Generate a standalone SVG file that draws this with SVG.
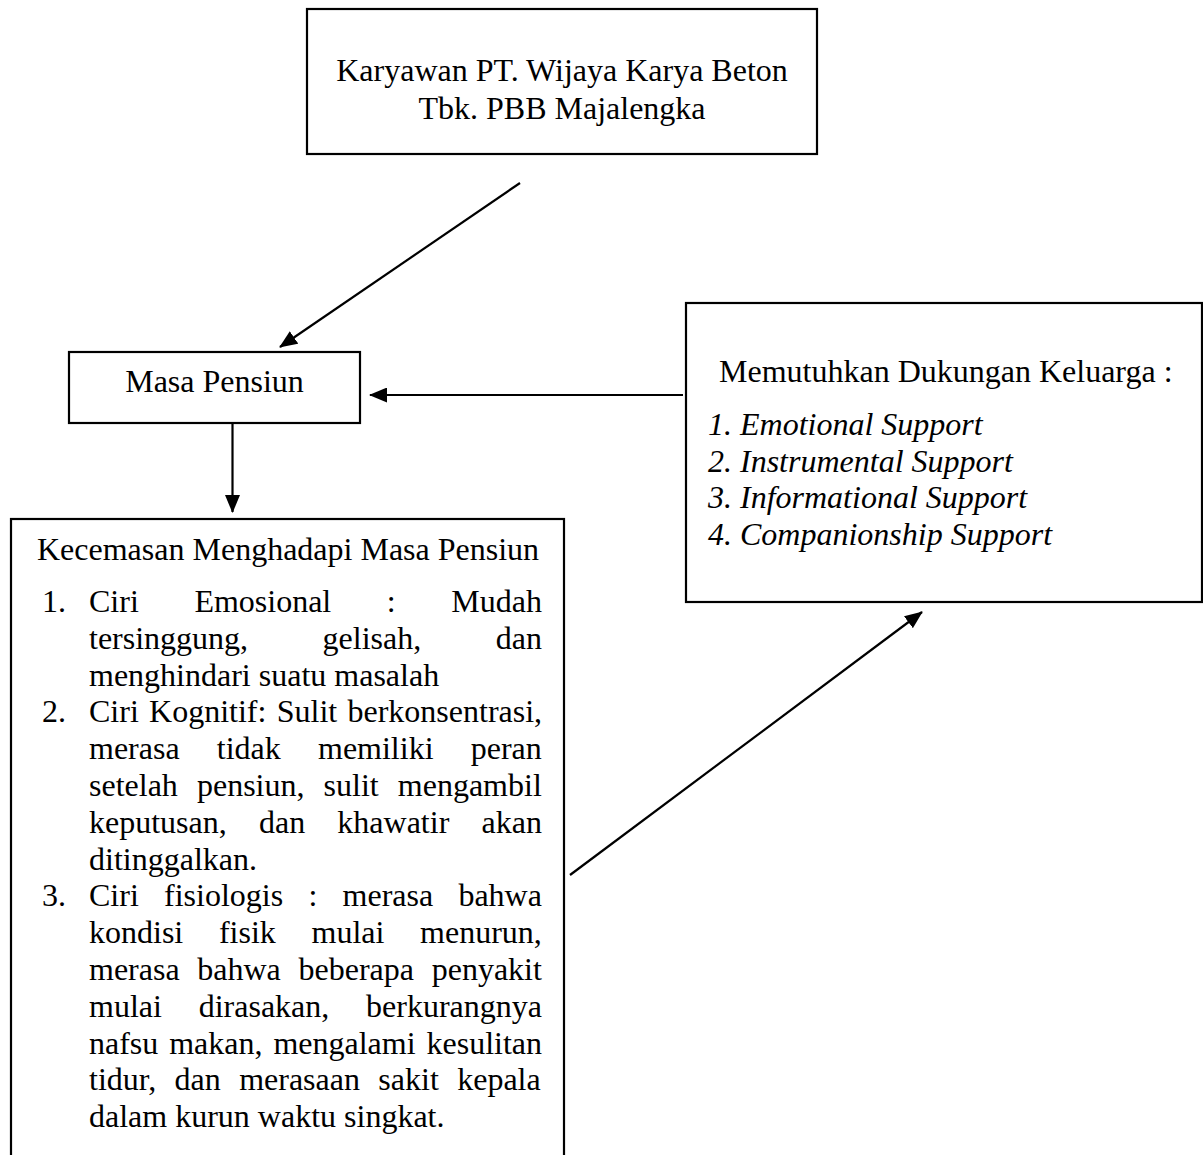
<svg xmlns="http://www.w3.org/2000/svg" width="1203" height="1155" viewBox="0 0 1203 1155">
<defs>
<style>
.box{fill:#fff;stroke:#000;stroke-width:2.2}
.t{font-family:"Liberation Serif","Times New Roman",serif;font-size:32px;fill:#000}
.c{text-anchor:middle}
.i{font-style:italic}
.conn line{stroke:#000;stroke-width:2.2}
</style>
<marker id="ah" viewBox="0 0 18 15" refX="17" refY="7.5" markerWidth="18" markerHeight="15" markerUnits="userSpaceOnUse" orient="auto">
<path d="M0,0 L18,7.5 L0,15 Z" fill="#000"/>
</marker>
</defs>
<rect width="1203" height="1155" fill="#fff"/>
<g id="node-karyawan">
<rect class="box" x="307" y="9" width="510" height="145"/>
<text class="t c" x="562" y="81">Karyawan PT. Wijaya Karya Beton</text>
<text class="t c" x="562" y="119">Tbk. PBB Majalengka</text>
</g>
<g id="node-masa-pensiun">
<rect class="box" x="69" y="352" width="291" height="71"/>
<text class="t c" x="214.5" y="392">Masa Pensiun</text>
</g>
<g id="node-dukungan">
<rect class="box" x="686" y="303" width="516" height="299"/>
<text class="t" x="719" y="382">Memutuhkan Dukungan Keluarga :</text>
<text class="t i" x="708" y="435">1. Emotional Support</text>
<text class="t i" x="708" y="472">2. Instrumental Support</text>
<text class="t i" x="708" y="508">3. Informational Support</text>
<text class="t i" x="708" y="545">4. Companionship Support</text>
</g>
<g id="node-kecemasan">
<rect class="box" x="11" y="519" width="553" height="660"/>
<text class="t" x="37" y="560">Kecemasan Menghadapi Masa Pensiun</text>
<text class="t" x="42" y="612">1.</text>
<text class="t" x="89" y="612" word-spacing="47.6">Ciri Emosional : Mudah</text>
<text class="t" x="89" y="648.8" word-spacing="66.5">tersinggung, gelisah, dan</text>
<text class="t" x="89" y="685.6">menghindari suatu masalah</text>
<text class="t" x="42" y="722.4">2.</text>
<text class="t" x="89" y="722.4" word-spacing="2.3">Ciri Kognitif: Sulit berkonsentrasi,</text>
<text class="t" x="89" y="759.2" word-spacing="29.2">merasa tidak memiliki peran</text>
<text class="t" x="89" y="796" word-spacing="11.1">setelah pensiun, sulit mengambil</text>
<text class="t" x="89" y="832.8" word-spacing="24.2">keputusan, dan khawatir akan</text>
<text class="t" x="89" y="869.6">ditinggalkan.</text>
<text class="t" x="42" y="906.4">3.</text>
<text class="t" x="89" y="906.4" word-spacing="17.25">Ciri fisiologis : merasa bahwa</text>
<text class="t" x="89" y="943.2" word-spacing="27.7">kondisi fisik mulai menurun,</text>
<text class="t" x="89" y="980" word-spacing="9.7">merasa bahwa beberapa penyakit</text>
<text class="t" x="89" y="1016.8" word-spacing="28.8">mulai dirasakan, berkurangnya</text>
<text class="t" x="89" y="1053.6" word-spacing="2.9">nafsu makan, mengalami kesulitan</text>
<text class="t" x="89" y="1090.4" word-spacing="10.4">tidur, dan merasaan sakit kepala</text>
<text class="t" x="89" y="1127.2">dalam kurun waktu singkat.</text>
</g>
<g id="connectors" class="conn">
<line x1="520" y1="183" x2="280" y2="347" marker-end="url(#ah)"/>
<line x1="683" y1="395" x2="370" y2="395" marker-end="url(#ah)"/>
<line x1="232.5" y1="423" x2="232.5" y2="512" marker-end="url(#ah)"/>
<line x1="570" y1="875" x2="922" y2="612" marker-end="url(#ah)"/>
</g>
</svg>
